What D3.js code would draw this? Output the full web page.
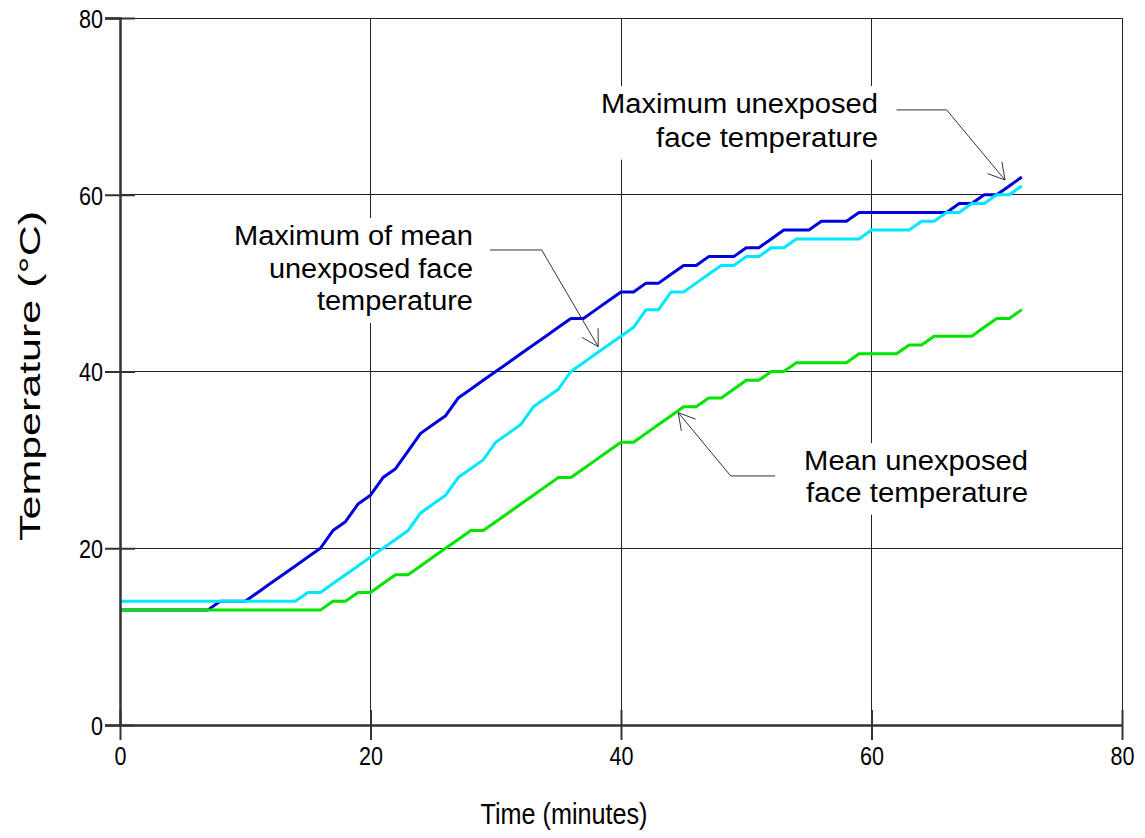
<!DOCTYPE html>
<html>
<head>
<meta charset="utf-8">
<script src="https://cdn.jsdelivr.net/npm/d3@7"></script>
<style>
  html, body { margin: 0; padding: 0; background: #fff; }
  svg { display: block; font-family: "Liberation Sans", Arial, sans-serif; }
</style>
</head>
<body>
<svg id="chart" width="1145" height="838"></svg>
<script>
// ---- data (minutes 0..72) ----
const minutes = d3.range(0, 73);
const maxUnexposed = [
  13,13,13,13,13,13,13,13,14,14,14,15,16,17,18,19,20,22,23,25,26,28,29,31,33,34,35,37,
  38,39,40,41,42,43,44,45,46,46,47,48,49,49,50,50,51,52,52,53,53,53,54,54,55,56,56,56,
  57,57,57,58,58,58,58,58,58,58,58,59,59,60,60,61,62
];
const maxOfMean = [
  14,14,14,14,14,14,14,14,14,14,14,14,14,14,14,15,15,16,17,18,19,20,21,22,24,25,26,28,
  29,30,32,33,34,36,37,38,40,41,42,43,44,45,47,47,49,49,50,51,52,52,53,53,54,54,55,55,
  55,55,55,55,56,56,56,56,57,57,58,58,59,59,60,60,61
];
const meanUnexposed = [
  13,13,13,13,13,13,13,13,13,13,13,13,13,13,13,13,13,14,14,15,15,16,17,17,18,19,20,21,
  22,22,23,24,25,26,27,28,28,29,30,31,32,32,33,34,35,36,36,37,37,38,39,39,40,40,41,41,
  41,41,41,42,42,42,42,43,43,44,44,44,44,45,46,46,47
];
const xTicks = [0, 20, 40, 60, 80];
const yTicks = [0, 20, 40, 60, 80];
const xTitle = "Time (minutes)";
const yTitle = "Temperature (°C)";
const labelMax = ["Maximum unexposed", "face temperature"];
const labelMaxMean = ["Maximum of mean", "unexposed face", "temperature"];
const labelMean = ["Mean unexposed", "face temperature"];

// ---- layout ----
const svg = d3.select("#chart");
const x = d3.scaleLinear().domain([0, 80]).range([120, 1122]);
const y = d3.scaleLinear().domain([0, 80]).range([725, 18]);

const series = [
  { values: maxUnexposed, color: "#0000dc" },
  { values: maxOfMean, color: "#00e8ff" },
  { values: meanUnexposed, color: "#00e400" }
];

// gridlines
const grid = svg.append("g");
grid.selectAll("line.vg").data(xTicks.slice(1)).join("line")
  .attr("x1", d => x(d)).attr("x2", d => x(d))
  .attr("y1", y(80)).attr("y2", y(0))
  .attr("stroke", "#222").attr("stroke-width", 1).attr("shape-rendering", "crispEdges");
grid.selectAll("line.hg").data(yTicks.slice(1)).join("line")
  .attr("x1", x(0)).attr("x2", x(80))
  .attr("y1", d => y(d)).attr("y2", d => y(d))
  .attr("stroke", "#222").attr("stroke-width", 1).attr("shape-rendering", "crispEdges");

// annotation definitions (in data units)
const annos = [
  { lines: labelMax, tx: 60.52, ty: [69.25, 65.44], widths: [277, 222],
    path: [[62.0, 69.6], [66.0, 69.6], [70.66, 61.67]] },
  { lines: labelMaxMean, tx: 28.18, ty: [54.31, 50.57, 46.96], widths: [239, 204, 156],
    path: [[29.54, 53.75], [33.67, 53.75], [38.18, 42.81]] },
  { lines: labelMean, tx: 72.5, ty: [28.85, 25.27], widths: [224, 222],
    path: [[52.3, 28.18], [48.76, 28.18], [44.57, 35.34]] }
];

const annoBg = svg.append("g");
const annoText = svg.append("g");
annos.forEach(a => {
  const g = annoText.append("g");
  a.lines.forEach((t, i) => {
    g.append("text")
      .attr("x", x(a.tx)).attr("y", y(a.ty[i]))
      .attr("text-anchor", "end")
      .attr("font-size", 27)
      .attr("textLength", a.widths[i])
      .attr("lengthAdjust", "spacingAndGlyphs")
      .attr("fill", "#000")
      .text(t);
  });
  const bb = g.node().getBBox();
  annoBg.append("rect")
    .attr("x", bb.x - 6).attr("y", bb.y - 3)
    .attr("width", bb.width + 12).attr("height", bb.height + 10)
    .attr("fill", "#fff");
});

// data lines
const line = d3.line().x((d, i) => x(minutes[i])).y(d => y(d));
svg.append("g").selectAll("path").data(series).join("path")
  .attr("d", d => line(d.values))
  .attr("fill", "none")
  .attr("stroke", d => d.color)
  .attr("stroke-width", 3)
  .attr("stroke-linejoin", "round");

// leader arrows
const arrows = svg.append("g").attr("stroke", "#333").attr("stroke-width", 1).attr("fill", "none");
annos.forEach(a => {
  const pts = a.path.map(p => [x(p[0]), y(p[1])]);
  arrows.append("path").attr("d", d3.line()(pts));
  const [p1, p2] = [pts[pts.length - 2], pts[pts.length - 1]];
  const ang = Math.atan2(p2[1] - p1[1], p2[0] - p1[0]) + Math.PI;
  const L = 18.5, h = Math.PI / 6;
  const b1 = [p2[0] + L * Math.cos(ang - h), p2[1] + L * Math.sin(ang - h)];
  const b2 = [p2[0] + L * Math.cos(ang + h), p2[1] + L * Math.sin(ang + h)];
  arrows.append("path").attr("d", d3.line()([b1, p2, b2]));
});

// axes
const xAxis = svg.append("g").attr("transform", `translate(0,${y(0)})`)
  .call(d3.axisBottom(x).tickValues(xTicks).tickSize(15).tickSizeOuter(0).tickPadding(6));
const yAxis = svg.append("g").attr("transform", `translate(${x(0)},0)`)
  .call(d3.axisLeft(y).tickValues(yTicks).tickSizeOuter(0).tickSize(15).tickPadding(3));
[xAxis, yAxis].forEach(ax => {
  ax.select(".domain").attr("stroke", "#333").attr("stroke-width", 2.5);
  ax.selectAll(".tick line").attr("stroke", "#333").attr("stroke-width", 2);
  ax.selectAll(".tick text")
    .attr("font-size", 26)
    .attr("font-family", "'Liberation Sans', Arial, sans-serif")
    .attr("fill", "#000")
    .attr("textLength", function () { return this.textContent.length * 12; })
    .attr("lengthAdjust", "spacingAndGlyphs");
});
// ticks cross the axis line
xAxis.selectAll(".tick line").attr("y1", -15).attr("y2", 15);
yAxis.selectAll(".tick line").attr("x1", -15).attr("x2", 15);
xAxis.selectAll(".tick text").attr("y", 22).attr("dy", "0.71em");
yAxis.selectAll(".tick text").attr("x", -17).attr("dy", "0.36em");

// axis titles
svg.append("text")
  .attr("x", 564).attr("y", 824)
  .attr("text-anchor", "middle")
  .attr("font-size", 30)
  .attr("textLength", 167).attr("lengthAdjust", "spacingAndGlyphs")
  .text(xTitle);
svg.append("text")
  .attr("transform", `translate(40,${376}) rotate(-90)`)
  .attr("text-anchor", "middle")
  .attr("font-size", 30)
  .attr("textLength", 330).attr("lengthAdjust", "spacingAndGlyphs")
  .text(yTitle);
</script>
</body>
</html>
